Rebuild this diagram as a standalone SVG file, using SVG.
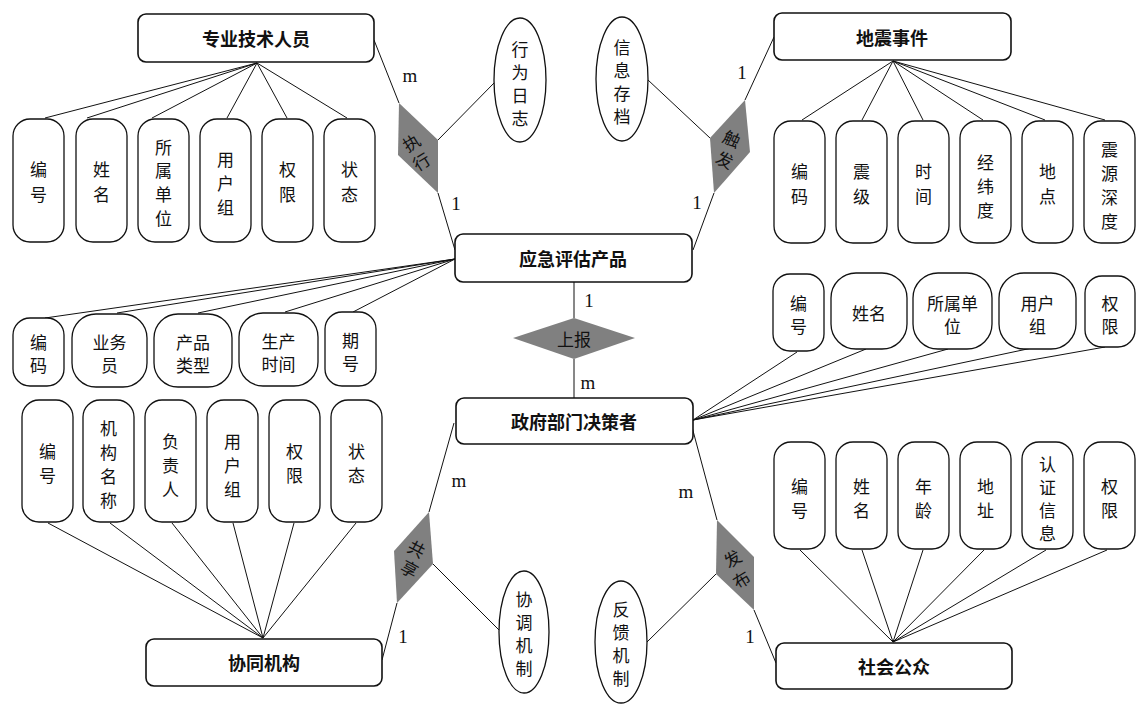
<svg xmlns="http://www.w3.org/2000/svg" width="1143" height="705" viewBox="0 0 1143 705">
<style>
.ent{fill:#fff;stroke:#111;stroke-width:1.6}
.att{fill:#fff;stroke:#111;stroke-width:1.3}
.rel{fill:#808080;stroke:none}
.ln{stroke:#111;stroke-width:1;fill:none}
.et{font-family:"Noto Sans CJK SC","Noto Sans",sans-serif;font-size:18px;font-weight:bold;fill:#111;text-anchor:middle;dominant-baseline:central}
.at{font-family:"Noto Sans CJK SC","Noto Sans",sans-serif;font-size:17px;fill:#111;text-anchor:middle;dominant-baseline:central}
.rt{font-family:"Noto Sans CJK SC","Noto Sans",sans-serif;font-size:17px;fill:#111;text-anchor:middle;dominant-baseline:central}
.card{font-family:"Liberation Serif",serif;font-size:19px;fill:#111;text-anchor:middle;dominant-baseline:central}
</style>
<rect width="1143" height="705" fill="#fff"/>
<g id="connectors">
<path class="ln" d="M257,63 L45,118 M257,63 L87,118 M257,63 L152,118 M257,63 L227,118 M257,63 L287,118 M257,63 L347,118"/>
<path class="ln" d="M893,61 L802,120 M893,61 L862,120 M893,61 L923,120 M893,61 L983,120 M893,61 L1045,120 M893,61 L1105,120"/>
<path class="ln" d="M455,259 L45,318 M455,259 L117,313 M455,259 L198,313 M455,259 L285,312 M455,259 L353,312"/>
<path class="ln" d="M693,420 L797,352 M693,420 L866,349 M693,420 L948,349 M693,420 L1032,348 M693,420 L1105,347"/>
<path class="ln" d="M263,638 L48,523 M263,638 L110,523 M263,638 L172,523 M263,638 L233,523 M263,638 L294,523 M263,638 L356,523"/>
<path class="ln" d="M893,642 L800,550 M893,642 L862,550 M893,642 L923,550 M893,642 L984,550 M893,642 L1046,550 M893,642 L1107,550"/>
<path class="ln" d="M374,40 L399,103 M438,193 L455,250 M438,140 L495,82"/>
<path class="ln" d="M774,37 L745,100 M714,193 L693,250 M648,80 L710,138"/>
<path class="ln" d="M574,282 L574,318 M574,359 L574,398"/>
<path class="ln" d="M454,423 L429,512 M397,603 L382,660 M433,564 L499,630"/>
<path class="ln" d="M692,427 L717,520 M754,610 L776,663 M647,642 L716,574"/>
</g>
<g id="labels">
<text class="card" x="410" y="75">m</text>
<text class="card" x="456" y="203">1</text>
<text class="card" x="742" y="72">1</text>
<text class="card" x="697" y="202">1</text>
<text class="card" x="589" y="300">1</text>
<text class="card" x="588" y="382">m</text>
<text class="card" x="459" y="480">m</text>
<text class="card" x="403" y="636">1</text>
<text class="card" x="686" y="491">m</text>
<text class="card" x="750" y="636">1</text>
</g>
<g id="e-zyjsry"><rect class="ent" x="138" y="14" width="236" height="48" rx="8"/><text class="et" x="256" y="38">专业技术人员</text></g>
<g id="e-dzsj"><rect class="ent" x="774" y="13" width="237" height="47" rx="8"/><text class="et" x="892" y="37">地震事件</text></g>
<g id="e-yjpgcp"><rect class="ent" x="455" y="234" width="237" height="48" rx="8"/><text class="et" x="573" y="258">应急评估产品</text></g>
<g id="e-zfbm"><rect class="ent" x="456" y="398" width="237" height="46" rx="8"/><text class="et" x="574" y="421">政府部门决策者</text></g>
<g id="e-xtjg"><rect class="ent" x="146" y="639" width="236" height="47" rx="8"/><text class="et" x="264" y="662">协同机构</text></g>
<g id="e-shgz"><rect class="ent" x="776" y="643" width="236" height="46" rx="8"/><text class="et" x="894" y="666">社会公众</text></g>
<g id="r-zx"><polygon class="rel" points="399,103 438,140 438,193 398,155"/><text class="rt" transform="translate(411,142) rotate(-32)">执</text><text class="rt" transform="translate(421,161) rotate(-32)">行</text></g>
<g id="r-cf"><polygon class="rel" points="745,100 750,152 714,193 710,138"/><text class="rt" transform="translate(732,138) rotate(25)">触</text><text class="rt" transform="translate(725,159) rotate(25)">发</text></g>
<g id="r-sb"><polygon class="rel" points="574,318 635,338 574,359 513,338"/><text class="rt" x="574" y="338">上报</text></g>
<g id="r-gx"><polygon class="rel" points="429,512 433,564 397,603 394,551"/><text class="rt" transform="translate(417,548) rotate(28)">共</text><text class="rt" transform="translate(410,568) rotate(28)">享</text></g>
<g id="r-fb"><polygon class="rel" points="717,520 754,557 754,610 716,574"/><text class="rt" transform="translate(732,558) rotate(-32)">发</text><text class="rt" transform="translate(741,579) rotate(-32)">布</text></g>
<g id="a-xwrz"><ellipse class="att" cx="520" cy="80" rx="26" ry="62"/><text class="at" x="520" y="48">行</text><text class="at" x="520" y="71">为</text><text class="at" x="520" y="94">日</text><text class="at" x="520" y="117">志</text></g>
<g id="a-xxcd"><ellipse class="att" cx="622" cy="79" rx="26" ry="62"/><text class="at" x="622" y="46">信</text><text class="at" x="622" y="69">息</text><text class="at" x="622" y="92">存</text><text class="at" x="622" y="115">档</text></g>
<g id="a-xtjz"><ellipse class="att" cx="524" cy="632" rx="25" ry="61"/><text class="at" x="524" y="598">协</text><text class="at" x="524" y="621">调</text><text class="at" x="524" y="644">机</text><text class="at" x="524" y="667">制</text></g>
<g id="a-fkjz"><ellipse class="att" cx="621" cy="642" rx="26" ry="61"/><text class="at" x="621" y="608">反</text><text class="at" x="621" y="631">馈</text><text class="at" x="621" y="654">机</text><text class="at" x="621" y="677">制</text></g>
<g id="a1"><rect class="att" x="13" y="119" width="51" height="123" rx="17"/><text class="at" x="38.5" y="168">编</text><text class="at" x="38.5" y="193">号</text></g>
<g id="a2"><rect class="att" x="76" y="119" width="51" height="123" rx="17"/><text class="at" x="101.5" y="168">姓</text><text class="at" x="101.5" y="193">名</text></g>
<g id="a3"><rect class="att" x="138" y="119" width="51" height="123" rx="17"/><text class="at" x="163.5" y="146">所</text><text class="at" x="163.5" y="169">属</text><text class="at" x="163.5" y="193">单</text><text class="at" x="163.5" y="217">位</text></g>
<g id="a4"><rect class="att" x="200" y="119" width="51" height="123" rx="17"/><text class="at" x="225.5" y="158">用</text><text class="at" x="225.5" y="182">户</text><text class="at" x="225.5" y="206">组</text></g>
<g id="a5"><rect class="att" x="262" y="119" width="51" height="123" rx="17"/><text class="at" x="287.5" y="168">权</text><text class="at" x="287.5" y="193">限</text></g>
<g id="a6"><rect class="att" x="324" y="119" width="51" height="123" rx="17"/><text class="at" x="349.5" y="168">状</text><text class="at" x="349.5" y="193">态</text></g>
<g id="b1"><rect class="att" x="774" y="121" width="51" height="122" rx="17"/><text class="at" x="799.5" y="170">编</text><text class="at" x="799.5" y="195">码</text></g>
<g id="b2"><rect class="att" x="836" y="121" width="51" height="122" rx="17"/><text class="at" x="861.5" y="170">震</text><text class="at" x="861.5" y="195">级</text></g>
<g id="b3"><rect class="att" x="898" y="121" width="51" height="122" rx="17"/><text class="at" x="923.5" y="170">时</text><text class="at" x="923.5" y="195">间</text></g>
<g id="b4"><rect class="att" x="960" y="121" width="51" height="122" rx="17"/><text class="at" x="985.5" y="161">经</text><text class="at" x="985.5" y="185">纬</text><text class="at" x="985.5" y="209">度</text></g>
<g id="b5"><rect class="att" x="1022" y="121" width="51" height="122" rx="17"/><text class="at" x="1047.5" y="170">地</text><text class="at" x="1047.5" y="195">点</text></g>
<g id="b6"><rect class="att" x="1084" y="121" width="51" height="122" rx="17"/><text class="at" x="1109.5" y="148">震</text><text class="at" x="1109.5" y="172">源</text><text class="at" x="1109.5" y="196">深</text><text class="at" x="1109.5" y="220">度</text></g>
<g id="c1"><rect class="att" x="13" y="318" width="51" height="68" rx="17"/><text class="at" x="38.5" y="341">编</text><text class="at" x="38.5" y="364">码</text></g>
<g id="c2"><rect class="att" x="72" y="314" width="75" height="73" rx="24"/><text class="at" x="109.5" y="341">业务</text><text class="at" x="109.5" y="364">员</text></g>
<g id="c3"><rect class="att" x="154" y="314" width="78" height="73" rx="24"/><text class="at" x="193" y="341">产品</text><text class="at" x="193" y="364">类型</text></g>
<g id="c4"><rect class="att" x="239" y="313" width="79" height="73" rx="24"/><text class="at" x="278.5" y="340">生产</text><text class="at" x="278.5" y="363">时间</text></g>
<g id="c5"><rect class="att" x="325" y="312" width="51" height="74" rx="17"/><text class="at" x="350.5" y="339">期</text><text class="at" x="350.5" y="362">号</text></g>
<g id="d1"><rect class="att" x="773" y="274" width="51" height="77" rx="17"/><text class="at" x="798.5" y="302">编</text><text class="at" x="798.5" y="325">号</text></g>
<g id="d2"><rect class="att" x="831" y="273" width="76" height="76" rx="25"/><text class="at" x="869" y="312">姓名</text></g>
<g id="d3"><rect class="att" x="913" y="273" width="79" height="76" rx="25"/><text class="at" x="952.5" y="302">所属单</text><text class="at" x="952.5" y="325">位</text></g>
<g id="d4"><rect class="att" x="999" y="273" width="77" height="76" rx="25"/><text class="at" x="1037.5" y="302">用户</text><text class="at" x="1037.5" y="325">组</text></g>
<g id="d5"><rect class="att" x="1085" y="276" width="50" height="71" rx="17"/><text class="at" x="1110" y="302">权</text><text class="at" x="1110" y="325">限</text></g>
<g id="f1"><rect class="att" x="22" y="400" width="51" height="122" rx="17"/><text class="at" x="47.5" y="450">编</text><text class="at" x="47.5" y="474">号</text></g>
<g id="f2"><rect class="att" x="83" y="400" width="51" height="122" rx="17"/><text class="at" x="108.5" y="427">机</text><text class="at" x="108.5" y="451">构</text><text class="at" x="108.5" y="475">名</text><text class="at" x="108.5" y="499">称</text></g>
<g id="f3"><rect class="att" x="145" y="400" width="51" height="122" rx="17"/><text class="at" x="170.5" y="440">负</text><text class="at" x="170.5" y="464">责</text><text class="at" x="170.5" y="488">人</text></g>
<g id="f4"><rect class="att" x="207" y="400" width="51" height="122" rx="17"/><text class="at" x="232.5" y="440">用</text><text class="at" x="232.5" y="464">户</text><text class="at" x="232.5" y="488">组</text></g>
<g id="f5"><rect class="att" x="269" y="400" width="51" height="122" rx="17"/><text class="at" x="294.5" y="450">权</text><text class="at" x="294.5" y="474">限</text></g>
<g id="f6"><rect class="att" x="331" y="400" width="51" height="122" rx="17"/><text class="at" x="356.5" y="450">状</text><text class="at" x="356.5" y="474">态</text></g>
<g id="g1"><rect class="att" x="774" y="442" width="51" height="107" rx="17"/><text class="at" x="799.5" y="485">编</text><text class="at" x="799.5" y="509">号</text></g>
<g id="g2"><rect class="att" x="836" y="442" width="51" height="107" rx="17"/><text class="at" x="861.5" y="485">姓</text><text class="at" x="861.5" y="509">名</text></g>
<g id="g3"><rect class="att" x="898" y="442" width="51" height="107" rx="17"/><text class="at" x="923.5" y="485">年</text><text class="at" x="923.5" y="509">龄</text></g>
<g id="g4"><rect class="att" x="960" y="442" width="51" height="107" rx="17"/><text class="at" x="985.5" y="485">地</text><text class="at" x="985.5" y="509">址</text></g>
<g id="g5"><rect class="att" x="1022" y="442" width="51" height="107" rx="17"/><text class="at" x="1047.5" y="463">认</text><text class="at" x="1047.5" y="486">证</text><text class="at" x="1047.5" y="509">信</text><text class="at" x="1047.5" y="532">息</text></g>
<g id="g6"><rect class="att" x="1084" y="442" width="51" height="107" rx="17"/><text class="at" x="1109.5" y="485">权</text><text class="at" x="1109.5" y="509">限</text></g>
</svg>
